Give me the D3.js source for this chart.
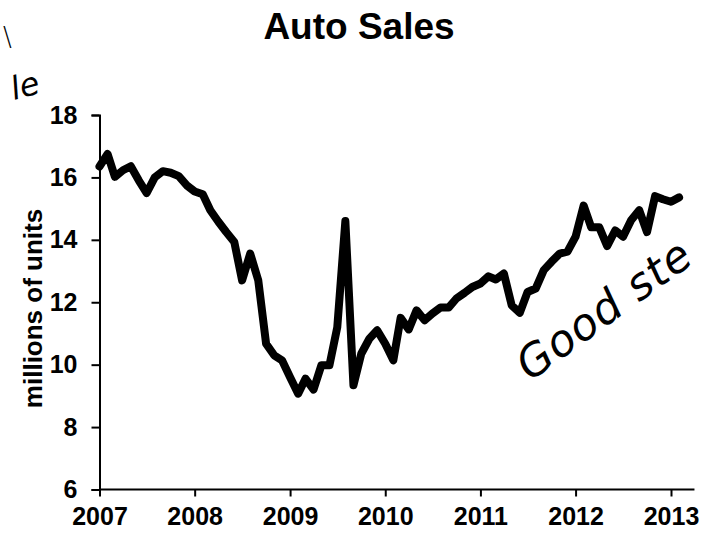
<!DOCTYPE html>
<html>
<head>
<meta charset="utf-8">
<script src="https://cdn.jsdelivr.net/npm/d3@7"></script>
<style>
  html, body { margin: 0; padding: 0; background: #fff; }
  svg { display: block; }
</style>
</head>
<body>
<svg id="chart"></svg>
<script>
// Monthly auto sales, millions of units (Jan 2007 - Feb 2013)
const startDate = new Date(2007, 0, 1)
const sales = [
  16.35, 16.75, 16.02, 16.23, 16.36, 15.9, 15.5, 16.0, 16.2, 16.15, 16.04, 15.75,
  15.55, 15.46, 14.95, 14.58, 14.25, 13.93, 12.7, 13.56, 12.7, 10.67, 10.3, 10.14,
  9.6, 9.07, 9.55, 9.2, 9.98, 9.98, 11.2, 14.6, 9.34, 10.35, 10.83, 11.1,
  10.67, 10.14, 11.5, 11.13, 11.74, 11.42, 11.64, 11.83, 11.83, 12.12, 12.3, 12.49,
  12.6, 12.83, 12.73, 12.92, 11.9, 11.66, 12.33, 12.44, 13.03, 13.3, 13.56, 13.62,
  14.1, 15.1, 14.4, 14.4, 13.8, 14.3, 14.1, 14.63, 14.95, 14.25, 15.4, 15.3,
  15.22, 15.36
]
const yearTicks = [2007, 2008, 2009, 2010, 2011, 2012, 2013]
const yTicks = [6, 8, 10, 12, 14, 16, 18]

const title = "Auto Sales"
const yLabel = "millions of units"

const width = 708
const height = 536
const svg = d3.select("#chart").attr("width", width).attr("height", height)

const data = sales.map((v, i) => ({ date: d3.timeMonth.offset(startDate, i), value: v }))

// Scales
const xScale = d3.scaleTime()
  .domain([new Date(2007, 0, 1), new Date(2013, 0, 1)])
  .range([99.5, 671])

const yScale = d3.scaleLinear()
  .domain([6, 18])
  .range([489.5, 115])

const font = "'Liberation Sans', Arial, sans-serif"

// Title
svg.append("text")
  .attr("x", 359)
  .attr("y", 39)
  .attr("text-anchor", "middle")
  .style("font-family", font)
  .style("font-weight", "bold")
  .style("font-size", "37px")
  .text(title)

// Y axis
const yAxis = svg.append("g")
  .attr("transform", `translate(${xScale.range()[0]},0)`)
  .call(d3.axisLeft(yScale).tickValues(yTicks).tickSize(8).tickPadding(14))

yAxis.select(".domain").attr("stroke-width", 2)
yAxis.selectAll(".tick line").attr("stroke-width", 2)
yAxis.selectAll(".tick text")
  .style("font-family", font)
  .style("font-weight", "bold")
  .style("font-size", "25px")
  .attr("fill", "#000")

// X axis (line runs a bit past 2013)
const xAxis = svg.append("g")
  .attr("transform", `translate(0,${yScale(6)})`)
  .call(d3.axisBottom(xScale)
    .tickValues(yearTicks.map(y => new Date(y, 0, 1)))
    .tickFormat(d3.timeFormat("%Y"))
    .tickSize(7)
    .tickPadding(11)
    .tickSizeOuter(0))

xAxis.select(".domain")
  .attr("d", `M${xScale.range()[0]},0H${xScale(d3.timeMonth.offset(startDate, 75))}`)
  .attr("stroke-width", 2)
xAxis.selectAll(".tick line").attr("stroke-width", 2)
xAxis.selectAll(".tick text")
  .style("font-family", font)
  .style("font-weight", "bold")
  .style("font-size", "25px")
  .attr("fill", "#000")

// Y axis label
svg.append("text")
  .attr("transform", `translate(42,${yScale(11.8)}) rotate(-90)`)
  .attr("text-anchor", "middle")
  .style("font-family", font)
  .style("font-weight", "bold")
  .style("font-size", "26px")
  .text(yLabel)

// Sales line
const line = d3.line()
  .x(d => xScale(d.date))
  .y(d => yScale(d.value))

svg.append("path")
  .datum(data)
  .attr("d", line)
  .style("fill", "none")
  .style("stroke", "#000")
  .style("stroke-width", 8)
  .style("stroke-linejoin", "round")
  .style("stroke-linecap", "round")

// Handwritten notes on the page
const hand = "'DejaVu Sans', sans-serif"

svg.append("text")
  .attr("transform", "translate(530,382) rotate(-36)")
  .style("font-family", hand)
  .style("font-style", "italic")
  .style("font-weight", 200)
  .style("font-size", "44px")
  .style("letter-spacing", "1px")
  .text("Good ste")

svg.append("text")
  .attr("transform", "translate(14,100) rotate(-15)")
  .style("font-family", hand)
  .style("font-style", "italic")
  .style("font-weight", 200)
  .style("font-size", "32px")
  .text("le")

svg.append("text")
  .attr("transform", "translate(3,46)")
  .style("font-family", hand)
  .style("font-weight", 200)
  .style("font-size", "26px")
  .text("\\")
</script>
</body>
</html>
